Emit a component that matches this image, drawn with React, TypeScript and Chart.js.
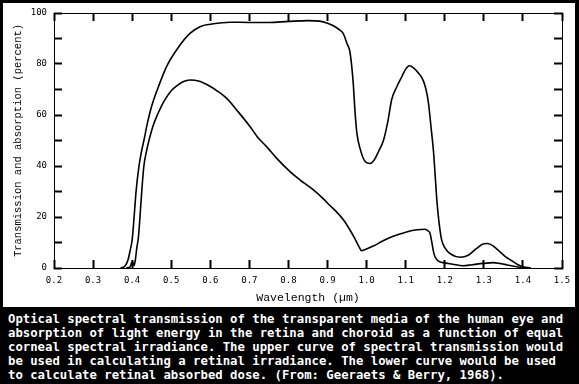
import { useEffect, useRef } from 'react';
import { Chart, registerables } from 'chart.js';

Chart.register(...registerables);

// Upper curve: spectral transmission of ocular media (percent)
const transmissionX = [0.37, 0.38, 0.385, 0.39, 0.395, 0.4, 0.405, 0.41, 0.4175, 0.423, 0.43, 0.44, 0.45, 0.467, 0.488, 0.518, 0.548, 0.575, 0.6, 0.63, 0.65, 0.7, 0.75, 0.8, 0.85, 0.88, 0.9, 0.915, 0.93, 0.94, 0.95, 0.957, 0.962, 0.966, 0.97, 0.975, 0.983, 0.995, 1.009, 1.02, 1.03, 1.043, 1.055, 1.064, 1.077, 1.09, 1.1, 1.109, 1.12, 1.135, 1.145, 1.152, 1.158, 1.165, 1.171, 1.176, 1.18, 1.186, 1.192, 1.2, 1.215, 1.24, 1.26, 1.28, 1.3, 1.31, 1.325, 1.34, 1.355, 1.37, 1.385, 1.4, 1.42];
const transmissionY = [0, 0.5, 1.5, 3.5, 7, 11, 20, 30, 40, 45, 50, 57.5, 63.5, 71, 79, 86.5, 92, 94.7, 95.6, 96.2, 96.4, 96.3, 96.3, 96.7, 97, 96.8, 96, 95, 93.5, 92, 88, 85, 79, 72, 62, 53, 47, 42, 41, 42.5, 45.5, 50, 58, 66, 71, 75, 78, 79.3, 78.5, 76, 73.5, 70, 65, 55, 46, 35, 26, 17, 11, 8, 5.5, 4.2, 5, 7.5, 9.5, 9.6, 8.5, 6.5, 4.5, 3, 1.5, 0.5, 0];

// Lower curve: absorption in retina and choroid (percent)
const absorptionX = [0.385, 0.395, 0.4, 0.405, 0.408, 0.412, 0.416, 0.42, 0.425, 0.43, 0.437, 0.443, 0.453, 0.463, 0.475, 0.484, 0.5, 0.515, 0.53, 0.548, 0.57, 0.6, 0.62, 0.642, 0.67, 0.702, 0.72, 0.744, 0.77, 0.804, 0.83, 0.864, 0.89, 0.906, 0.92, 0.94, 0.957, 0.97, 0.98, 0.987, 0.995, 1.017, 1.04, 1.06, 1.085, 1.111, 1.13, 1.149, 1.156, 1.162, 1.167, 1.171, 1.175, 1.185, 1.196, 1.22, 1.247, 1.27, 1.3, 1.324, 1.34, 1.36, 1.384, 1.4, 1.42];
const absorptionY = [0, 0.5, 2.5, 1, 3, 8, 12, 20, 31, 40, 46, 50, 55.5, 59.5, 63.5, 66, 69.5, 71.5, 73, 73.7, 73.3, 71.2, 69.2, 66.5, 61.5, 55.4, 51.5, 47.6, 43, 37.8, 34.5, 30.6, 27, 24.5, 22.5, 19, 15, 11.5, 8.5, 6.8, 7.2, 8.6, 10.5, 12, 13.3, 14.5, 15, 15.2, 14.7, 13.7, 10, 6.5, 4.4, 2.6, 2.1, 1.5, 0.9, 1.3, 1.8, 2.1, 1.8, 1.2, 0.5, 0.2, 0];

const xMin = 0.2;
const xMax = 1.5;
const xStep = 0.1;
const yMin = 0;
const yMax = 100;
const yStep = 10;
const yLabelEvery = 20;

const xTitle = 'Wavelength (\u00b5m)';
const yTitle = 'Transmission and absorption (percent)';
const captionLines = [
  'Optical spectral transmission of the transparent media of the human eye and',
  'absorption of light energy in the retina and choroid as a function of equal',
  'corneal spectral irradiance. The upper curve of spectral transmission would',
  'be used in calculating a retinal irradiance. The lower curve would be used',
  'to calculate retinal absorbed dose. (From: Geeraets & Berry, 1968).',
];

const toPoints = (xs: number[], ys: number[]) => xs.map((x, i) => ({ x, y: ys[i] }));

const fixSize = (prop: 'width' | 'height', value: number) => (s: any) => {
  s[prop] = value;
  s.paddingTop = 0;
  s.paddingBottom = 0;
  s.paddingLeft = 0;
  s.paddingRight = 0;
};

export default function App() {
  const canvasRef = useRef<HTMLCanvasElement | null>(null);

  useEffect(() => {
    if (!canvasRef.current) return;
    const tickFont = { family: 'DejaVu Sans Mono', size: 9 };
    const grid = {
      drawOnChartArea: false,
      tickLength: -8,
      tickWidth: 2,
      tickColor: '#000',
      color: '#000',
    };
    const border = { display: true, color: '#000', width: 1 };
    const chart = new Chart(canvasRef.current, {
      type: 'line',
      data: {
        datasets: [
          {
            label: 'Transmission',
            data: toPoints(transmissionX, transmissionY),
            borderColor: '#000',
            borderWidth: 1.6,
            pointRadius: 0,
            cubicInterpolationMode: 'monotone',
            fill: false,
          },
          {
            label: 'Absorption',
            data: toPoints(absorptionX, absorptionY),
            borderColor: '#000',
            borderWidth: 1.6,
            pointRadius: 0,
            cubicInterpolationMode: 'monotone',
            fill: false,
          },
        ],
      },
      options: {
        animation: false,
        responsive: false,
        events: [],
        layout: { padding: { left: 0, right: 13, top: 10, bottom: 0 } },
        plugins: { legend: { display: false }, tooltip: { enabled: false } },
        scales: {
          x: {
            type: 'linear',
            position: 'bottom',
            min: xMin,
            max: xMax,
            ticks: {
              stepSize: xStep,
              autoSkip: false,
              maxRotation: 0,
              padding: 15,
              color: '#000',
              font: tickFont,
              callback: (v: any) => Number(v).toFixed(1),
            },
            grid,
            border,
            title: {
              display: true,
              text: xTitle,
              color: '#000',
              font: { family: 'Liberation Mono', size: 11.5 },
              padding: { top: 0, bottom: 2 },
            },
            afterFit: fixSize('height', 39),
          },
          x2: {
            type: 'linear',
            position: 'top',
            min: xMin,
            max: xMax,
            ticks: { stepSize: xStep, display: false, autoSkip: false },
            grid,
            border,
            afterFit: fixSize('height', 0),
          },
          y: {
            type: 'linear',
            position: 'left',
            min: yMin,
            max: yMax,
            ticks: {
              stepSize: yStep,
              padding: 15,
              color: '#000',
              font: tickFont,
              callback: (v: any) => (Number(v) % yLabelEvery === 0 ? String(v) : ''),
            },
            grid,
            border,
            title: {
              display: true,
              text: yTitle,
              color: '#000',
              font: { family: 'Liberation Mono', size: 10.5 },
              padding: { top: 9, bottom: 0 },
            },
            afterFit: fixSize('width', 51),
          },
          y2: {
            type: 'linear',
            position: 'right',
            min: yMin,
            max: yMax,
            ticks: { stepSize: yStep, display: false },
            grid,
            border,
            afterFit: fixSize('width', 0),
          },
        },
      },
    } as any);
    return () => chart.destroy();
  }, []);

  return (
    <div
      style={{
        position: 'fixed',
        left: 0,
        top: 0,
        width: 579,
        height: 384,
        background: '#000',
        overflow: 'hidden',
      }}
    >
      <div
        style={{
          position: 'absolute',
          left: 3,
          top: 3,
          width: 572,
          height: 304,
          background: '#fff',
        }}
      >
        <canvas ref={canvasRef} width={572} height={304} style={{ display: 'block', width: 572, height: 304 }} />
      </div>
      <div
        style={{
          position: 'absolute',
          left: 8,
          top: 312,
          color: '#fff',
          fontFamily: "'DejaVu Sans Mono', monospace",
          fontWeight: 'bold',
          fontSize: '12.3px',
          lineHeight: '14px',
          whiteSpace: 'pre',
        }}
      >
        {captionLines.join('\n')}
      </div>
    </div>
  );
}
